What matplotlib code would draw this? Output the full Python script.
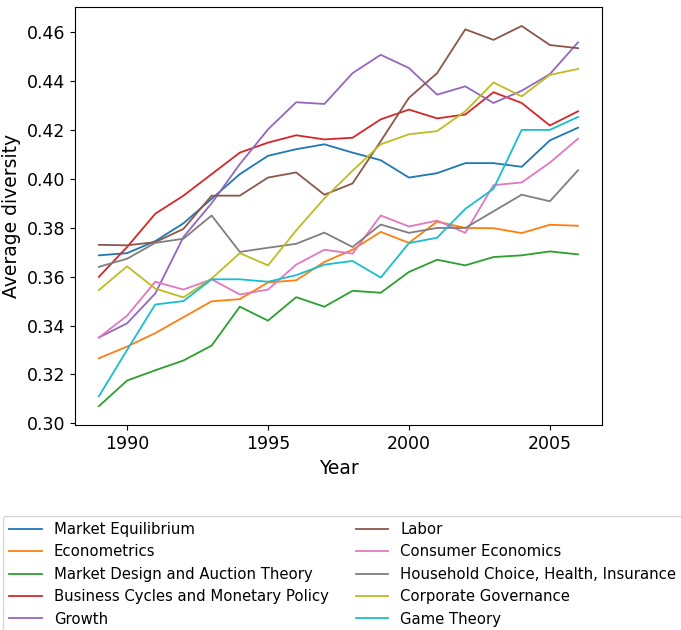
import matplotlib.pyplot as plt

years = list(range(1989, 2007))

market_equilibrium = [0.3687, 0.3696, 0.3745, 0.3818, 0.3918, 0.4019, 0.4094, 0.4121, 0.4141, 0.4107,
                      0.4076, 0.4005, 0.4023, 0.4064, 0.4064, 0.4049, 0.4157, 0.4209]
econometrics = [0.3266, 0.3314, 0.3369, 0.3434, 0.3499, 0.3508, 0.3576, 0.3585, 0.3660, 0.3710,
                0.3783, 0.3738, 0.3825, 0.3799, 0.3798, 0.3778, 0.3812, 0.3808]
market_design = [0.3070, 0.3175, 0.3217, 0.3257, 0.3318, 0.3477, 0.3420, 0.3516, 0.3477, 0.3542,
                 0.3534, 0.3619, 0.3669, 0.3646, 0.3680, 0.3687, 0.3703, 0.3691]
business_cycles = [0.3599, 0.3721, 0.3857, 0.3931, 0.4019, 0.4107, 0.4148, 0.4178, 0.4161, 0.4168,
                   0.4243, 0.4283, 0.4247, 0.4263, 0.4354, 0.4310, 0.4218, 0.4276]
growth = [0.3351, 0.3409, 0.3531, 0.3762, 0.3900, 0.4060, 0.4202, 0.4313, 0.4306, 0.4432,
          0.4507, 0.4453, 0.4344, 0.4378, 0.4310, 0.4360, 0.4428, 0.4558]
labor = [0.3730, 0.3728, 0.3741, 0.3795, 0.3931, 0.3931, 0.4005, 0.4026, 0.3935, 0.3981,
         0.4154, 0.4331, 0.4432, 0.4611, 0.4568, 0.4625, 0.4547, 0.4534]
consumer = [0.3351, 0.3440, 0.3579, 0.3547, 0.3589, 0.3527, 0.3547, 0.3649, 0.3710, 0.3694,
            0.3850, 0.3805, 0.3829, 0.3779, 0.3974, 0.3985, 0.4066, 0.4164]
household = [0.3640, 0.3673, 0.3738, 0.3755, 0.3850, 0.3701, 0.3718, 0.3734, 0.3780, 0.3721,
             0.3813, 0.3779, 0.3799, 0.3799, 0.3867, 0.3935, 0.3908, 0.4035]
corporate = [0.3545, 0.3642, 0.3551, 0.3515, 0.3592, 0.3696, 0.3646, 0.3789, 0.3920, 0.4033,
             0.4141, 0.4182, 0.4195, 0.4276, 0.4394, 0.4337, 0.4425, 0.4449]
game_theory = [0.3111, 0.3300, 0.3486, 0.3500, 0.3589, 0.3589, 0.3579, 0.3606, 0.3649, 0.3664,
               0.3596, 0.3737, 0.3759, 0.3877, 0.3959, 0.4200, 0.4200, 0.4253]

topics = ["Market Equilibrium", "Econometrics", "Market Design and Auction Theory",
          "Business Cycles and Monetary Policy", "Growth", "Labor", "Consumer Economics",
          "Household Choice, Health, Insurance", "Corporate Governance", "Game Theory"]
series = [market_equilibrium, econometrics, market_design, business_cycles, growth,
          labor, consumer, household, corporate, game_theory]
year_ticks = [1990, 1995, 2000, 2005]

fig = plt.figure(figsize=(6.81, 6.30), dpi=100)
ax = fig.add_axes([0.110, 0.325, 0.774, 0.664])

for name, vals in zip(topics, series):
    ax.plot(years, vals, label=name, linewidth=1.3)

ax.set_xticks(year_ticks)
ax.set_xlabel("Year", fontsize=13.5)
ax.set_ylabel("Average diversity", fontsize=13.5)
ax.tick_params(labelsize=12.5)

# legend sits under the axes, two columns
fig.legend(loc="upper left", bbox_to_anchor=(0.005, 0.181), ncol=2, fontsize=10.7,
           frameon=True, borderaxespad=0, handlelength=2.2, columnspacing=1.8,
           labelspacing=0.5, borderpad=0.4)

fig.savefig("out.png", dpi=100)
